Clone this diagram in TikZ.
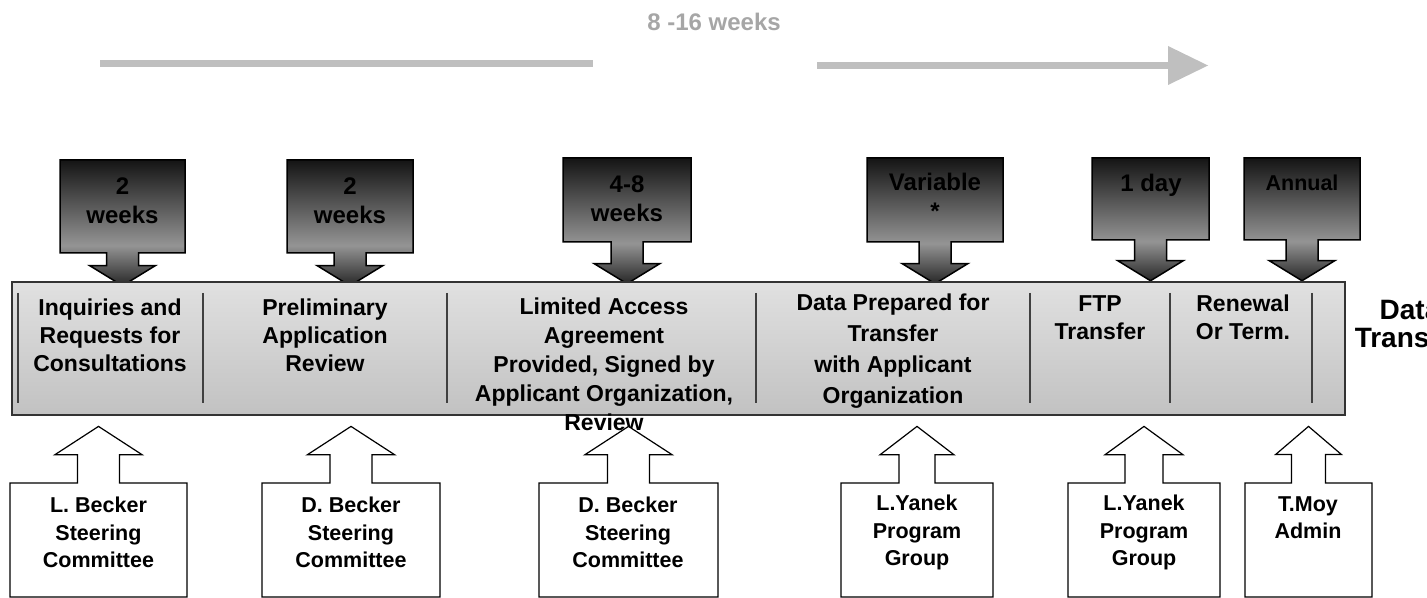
\documentclass[tikz,border=0pt]{standalone}
\usepackage{fontspec}
\setmainfont{Liberation Sans}
\usetikzlibrary{shapes.arrows,arrows.meta}

% dark at top, light near the box bottom, dark again at the tip
\pgfdeclareverticalshading{lagshade}{100bp}{color(0bp)=(black!85); color(25bp)=(black!85); color(41bp)=(black!42); color(75bp)=(black!92); color(100bp)=(black!92)}

\begin{document}
\begin{tikzpicture}[x=0.5pt,y=-0.5pt,
  lag/.style={arrow box, draw=black, line width=0.75pt, shade, shading=lagshade, inner sep=0pt,
    arrow box tip angle=117, arrow box shaft width=16pt, arrow box head extend=8.5pt},
  lagtext/.style={align=center, font=\bfseries\fontsize{12}{14.5}\selectfont},
  band/.style={draw=black!80, line width=0.9pt, top color=black!12, bottom color=black!24, inner sep=0pt},
  stagetext/.style={align=center, font=\bfseries\fontsize{11.5}{14}\selectfont},
  divider/.style={black!75, line width=1pt},
  who/.style={arrow box, draw=black, fill=white, line width=0.6pt, inner sep=0pt,
    minimum height=57pt, arrow box arrows={north:28pt}},
  whotext/.style={align=center, font=\bfseries\fontsize{10.75}{13.75}\selectfont},
  spanline/.style={black!25, line width=3.5pt}
]
\useasboundingbox (0,0) rectangle (1427,598);

% overall duration
\node[font=\bfseries\fontsize{12}{14}\selectfont, text=black!35] (span) at (714,22) {8 -16 weeks};
\coordinate (spanA) at (100,64);
\coordinate (spanB) at (593,64);
\coordinate (spanC) at (817,65.5);
\coordinate (spanD) at (1208,65.5);
\draw[spanline] (spanA) -- (spanB);
\draw[spanline, -{Triangle[length=20pt,width=19.5pt,line width=0pt]}] (spanC) -- (spanD);

% durations
\node[lag, minimum width=62.5pt, minimum height=46.5pt, arrow box arrows={south:16pt}] (lag1) at (122.5,206.5) {};
\node[lag, minimum width=63pt, minimum height=46.5pt, arrow box arrows={south:16pt}] (lag2) at (350,206.5) {};
\node[lag, minimum width=64pt, minimum height=42pt, arrow box arrows={south:20.5pt}] (lag3) at (627,200) {};
\node[lag, minimum width=68pt, minimum height=42pt, arrow box arrows={south:20.5pt}] (lag4) at (935,200) {};
\node[lag, minimum width=58.5pt, minimum height=41pt, arrow box arrows={south:20pt}] (lag5) at (1150.5,199) {};
\node[lag, minimum width=58pt, minimum height=41pt, arrow box arrows={south:20pt}] (lag6) at (1302,199) {};
\node[lagtext] (lag1t) at (122.5,201) {2\\weeks};
\node[lagtext] (lag2t) at (350,201) {2\\weeks};
\node[lagtext] (lag3t) at (627,198.5) {4-8\\weeks};
\node[lagtext] (lag4t) at (935,196.5) {Variable\\*};
\node[lagtext] (lag5t) at (1151,185) {1 day};
\node[lagtext, font=\bfseries\fontsize{10.75}{13}\selectfont] (lag6t) at (1302,183) {Annual};

% stages
\node[band, minimum width=666.5pt, minimum height=66.5pt] (band) at (678.5,348.5) {};
\foreach \x in {18,203,447,756,1030,1170,1312}
  \draw[divider] (\x,293) -- (\x,403);
\node[stagetext] (inquiry) at (110,335) {Inquiries and\\Requests for\\Consultations};
\node[stagetext] (prelim) at (325,335) {Preliminary\\Application\\Review};
\node[stagetext, font=\bfseries\fontsize{11.5}{14.5}\selectfont] (agree) at (604,364) {Limited Access\\Agreement\\Provided, Signed by\\Applicant Organization,\\Review};
\node[stagetext, font=\bfseries\fontsize{11.5}{15.5}\selectfont] (prep) at (893,351.5) {Data Prepared for\\Transfer\\with Applicant\\Organization};
\node[stagetext] (ftp) at (1100,317.5) {FTP\\Transfer};
\node[stagetext] (renew) at (1243,317.5) {Renewal\\Or Term.};
\node[align=center, font=\bfseries\fontsize{14}{14}\selectfont] (datatrans) at (1410,324) {Data\\Transfer};

% who is responsible
\node[who, minimum width=88.5pt, arrow box shaft width=21pt, arrow box head extend=11.25pt, arrow box tip angle=114] (who1) at (98.5,540) {};
\node[who, minimum width=89pt, arrow box shaft width=21pt, arrow box head extend=11.25pt, arrow box tip angle=114] (who2) at (351,540) {};
\node[who, minimum width=89.5pt, arrow box shaft width=21pt, arrow box head extend=11.25pt, arrow box tip angle=114] (who3) at (628.5,540) {};
\node[who, minimum width=76pt, arrow box shaft width=18pt, arrow box head extend=9.5pt, arrow box tip angle=105] (who4) at (917,540) {};
\node[who, minimum width=76pt, arrow box shaft width=19pt, arrow box head extend=10pt, arrow box tip angle=108] (who5) at (1144,540) {};
\node[who, minimum width=63.5pt, arrow box shaft width=17pt, arrow box head extend=8pt, arrow box tip angle=99] (who6) at (1308.5,540) {};
\node[whotext] (who1t) at (98.5,532.5) {L. Becker\\Steering\\Committee};
\node[whotext] (who2t) at (351,532.5) {D. Becker\\Steering\\Committee};
\node[whotext] (who3t) at (628,532.5) {D. Becker\\Steering\\Committee};
\node[whotext] (who4t) at (917,532.5) {L.Yanek\\Program\\Group};
\node[whotext] (who5t) at (1144,532.5) {L.Yanek\\Program\\Group};
\node[whotext] (who6t) at (1308,517.5) {T.Moy\\Admin};
\end{tikzpicture}
\end{document}
